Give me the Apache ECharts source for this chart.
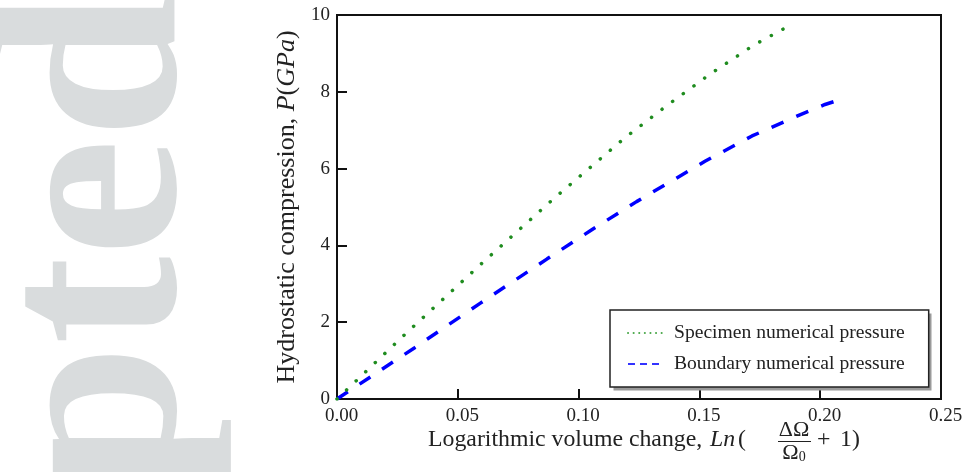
<!DOCTYPE html>
<html>
<head>
<meta charset="utf-8">
<script src="https://cdn.jsdelivr.net/npm/echarts@6/dist/echarts.min.js"></script>
<style>
  html, body { margin: 0; padding: 0; background: #fff; }
  #chart { width: 972px; height: 472px; }
</style>
</head>
<body>
<div id="chart"></div>
<script>
// values
var specimenX = [0, 0.0289, 0.0611, 0.0899, 0.1191, 0.1367, 0.1544, 0.1726, 0.1872]
var specimenP = [0, 1.73, 3.60, 5.23, 6.80, 7.65, 8.46, 9.22, 9.72]
var boundaryX = [0, 0.032, 0.0592, 0.0870, 0.1053, 0.1240, 0.1523, 0.1718, 0.1916, 0.202, 0.209]
var boundaryP = [0, 1.33, 2.49, 3.65, 4.40, 5.14, 6.19, 6.85, 7.40, 7.67, 7.81]
var seriesNames = ['Specimen numerical pressure', 'Boundary numerical pressure']
var xTicks = [0, 0.05, 0.10, 0.15, 0.20, 0.25]
var yTicks = [0, 2, 4, 6, 8, 10]

var serif = 'Liberation Serif'
var chart = echarts.init(document.getElementById('chart'))

function pairs (xs, ys) {
  return xs.map(function (x, i) { return [x, ys[i]] })
}

var axisCommon = {
  axisLine: { show: true, lineStyle: { color: '#111', width: 2 } },
  axisTick: { show: true, inside: true, length: 10, lineStyle: { color: '#111', width: 2 } },
  splitLine: { show: false }
}

var option = {
  animation: false,
  backgroundColor: '#fff',
  grid: {
    left: 337, right: 31, top: 15, bottom: 73,
    show: true, borderColor: '#111', borderWidth: 2, backgroundColor: 'transparent'
  },
  xAxis: Object.assign({
    type: 'value',
    min: xTicks[0],
    max: xTicks[xTicks.length - 1],
    interval: xTicks[1] - xTicks[0],
    axisLabel: {
      color: '#222', fontFamily: serif, fontSize: 19, margin: 8, padding: [0, 0, 0, 9],
      formatter: function (v) { return v.toFixed(2) }
    }
  }, axisCommon),
  yAxis: Object.assign({
    type: 'value',
    min: yTicks[0],
    max: yTicks[yTicks.length - 1],
    interval: yTicks[1] - yTicks[0],
    name: 'Hydrostatic compression, {i|P}({i|GPa})',
    nameLocation: 'middle',
    nameRotate: 90,
    nameGap: 33,
    nameTextStyle: {
      color: '#222', fontFamily: serif, fontSize: 26,
      rich: { i: { fontFamily: serif, fontSize: 26, fontStyle: 'italic', color: '#222' } }
    },
    axisLabel: { color: '#222', fontFamily: serif, fontSize: 19, margin: 7 }
  }, axisCommon),
  legend: {
    orient: 'vertical',
    left: 610,
    top: 310,
    z: 5,
    padding: [13, 24, 13, 17],
    itemWidth: 35,
    itemHeight: 14,
    itemGap: 11,
    backgroundColor: '#fff',
    borderColor: '#222',
    borderWidth: 1.5,
    borderRadius: 0,
    textStyle: { color: '#222', fontFamily: serif, fontSize: 19.6, padding: [0, 0, 0, 6] },
    data: [
      { name: seriesNames[0], itemStyle: { opacity: 0 }, lineStyle: { color: '#4aa84a', width: 2, type: [0.1, 5.5], cap: 'round' } },
      { name: seriesNames[1], itemStyle: { opacity: 0 }, lineStyle: { color: '#3333ff', width: 2, type: [7, 5] } }
    ]
  },
  graphic: [
    {
      type: 'text', z: -10, x: 106, y: 492, rotation: Math.PI / 2,
      style: { text: 'pted', fontFamily: serif, fontWeight: 'bold', fontSize: 265, fill: '#d9dcdd', textAlign: 'left', textVerticalAlign: 'middle' }
    },
    {
      // legend drop shadow
      type: 'rect', z: 4, shape: { x: 613.5, y: 313.5, width: 318, height: 77 }, style: { fill: '#9a9a9a' }
    },
    {
      type: 'text', x: 428, y: 440,
      style: { text: 'Logarithmic volume change,', fontFamily: serif, fontSize: 23.8, fill: '#222', textVerticalAlign: 'middle' }
    },
    {
      type: 'text', x: 710, y: 440,
      style: { text: 'Ln', fontFamily: serif, fontSize: 23.8, fontStyle: 'italic', fill: '#222', textVerticalAlign: 'middle' }
    },
    {
      type: 'text', x: 738, y: 440,
      style: { text: '(', fontFamily: serif, fontSize: 23.8, fill: '#222', textVerticalAlign: 'middle' }
    },
    {
      type: 'text', x: 794, y: 430,
      style: { text: 'ΔΩ', fontFamily: serif, fontSize: 22, fill: '#222', textAlign: 'center', textVerticalAlign: 'middle' }
    },
    {
      type: 'line', shape: { x1: 778, y1: 441.5, x2: 811, y2: 441.5 }, style: { stroke: '#222', lineWidth: 1 }
    },
    {
      type: 'text', x: 794, y: 453,
      style: {
        text: 'Ω{s|0}', fontFamily: serif, fontSize: 22, fill: '#222', textAlign: 'center', textVerticalAlign: 'middle',
        rich: { s: { fontFamily: serif, fontSize: 14, fill: '#222', padding: [8, 0, 0, 0] } }
      }
    },
    {
      type: 'text', x: 817, y: 440,
      style: { text: '+', fontFamily: serif, fontSize: 23.8, fill: '#222', textVerticalAlign: 'middle' }
    },
    {
      type: 'text', x: 840, y: 440,
      style: { text: '1)', fontFamily: serif, fontSize: 23.8, fill: '#222', textVerticalAlign: 'middle' }
    }
  ],
  series: [
    {
      name: seriesNames[0],
      type: 'line',
      data: pairs(specimenX, specimenP),
      symbol: 'none',
      lineStyle: { color: '#1f8c1f', width: 3.5, type: [0.1, 13.1], cap: 'round' },
      itemStyle: { color: '#1f8c1f' },
      z: 3
    },
    {
      name: seriesNames[1],
      type: 'line',
      data: pairs(boundaryX, boundaryP),
      symbol: 'none',
      lineStyle: { color: '#0000ff', width: 3.5, type: [13, 14] },
      itemStyle: { color: '#0000ff' },
      z: 2
    }
  ]
}

chart.setOption(option)
window.addEventListener('resize', function () {
  chart.resize()
})
</script>
</body>
</html>
